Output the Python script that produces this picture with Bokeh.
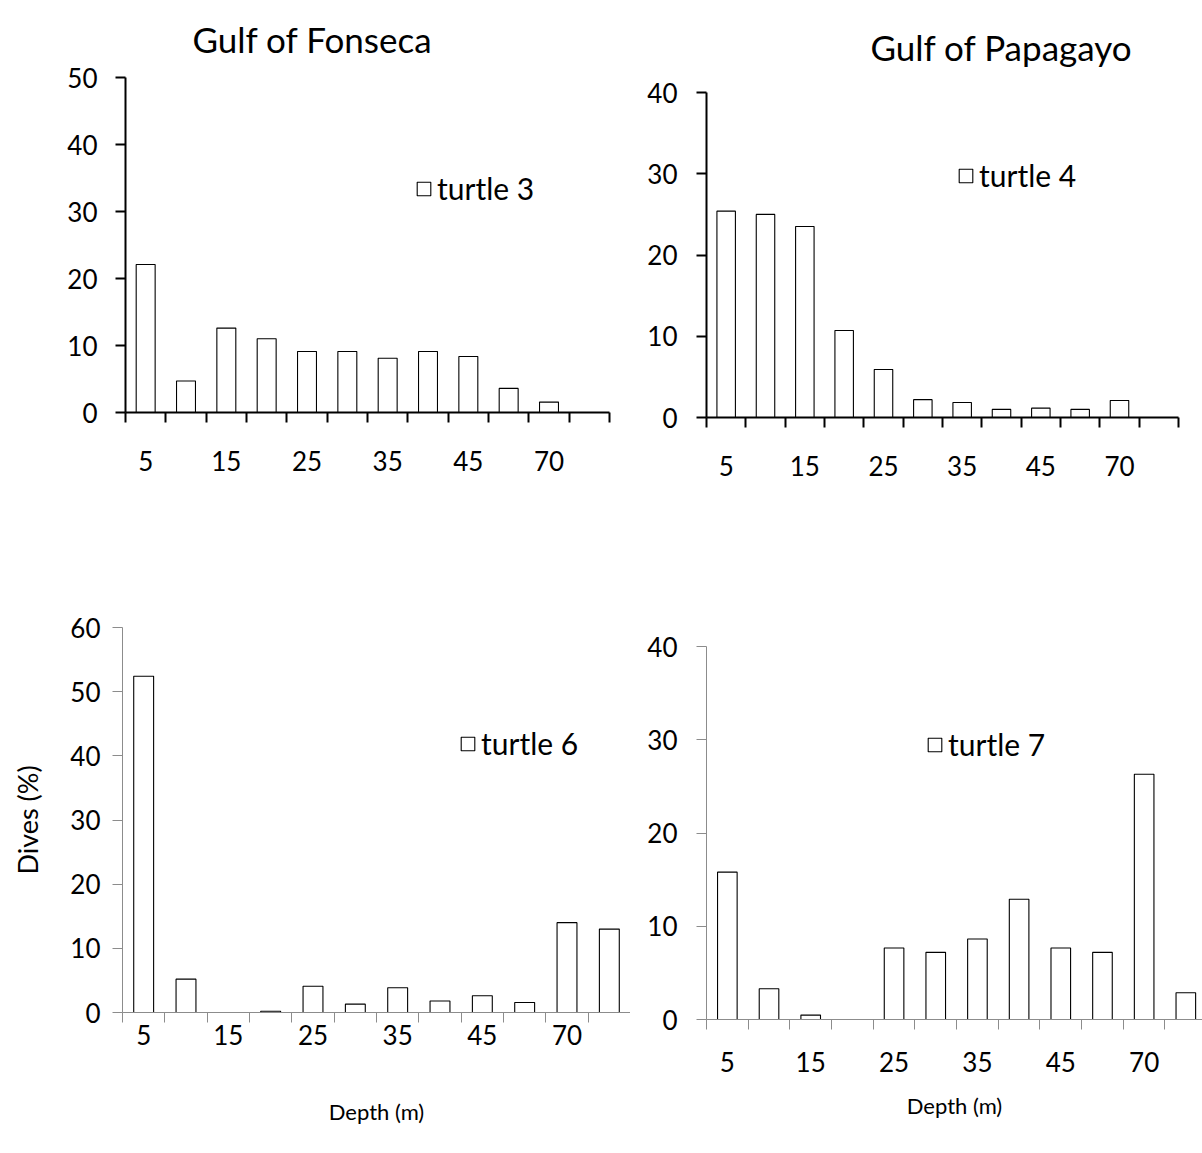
from bokeh.plotting import figure
from bokeh.models import (Range1d, FixedTicker, Legend, LegendItem,
                          ColumnDataSource)
from bokeh.layouts import column, row
from bokeh.embed import file_html
from bokeh.resources import INLINE

# Depth bins (m) and share of dives (%) per bin for each turtle
depth_bins = ["5", "10", "15", "20", "25", "30", "35", "40", "45", "50", "70", ">70"]
turtle3 = [22.1, 4.7, 12.6, 11.0, 9.1, 9.1, 8.1, 9.1, 8.35, 3.6, 1.55, 0.0]
turtle4 = [25.4, 25.0, 23.5, 10.7, 5.9, 2.2, 1.85, 1.0, 1.15, 1.0, 2.1, 0.0]
turtle6 = [52.4, 5.2, 0.0, 0.2, 4.1, 1.3, 3.85, 1.8, 2.6, 1.55, 14.0, 13.0]
turtle7 = [15.8, 3.3, 0.47, 0.0, 7.66, 7.2, 8.64, 12.9, 7.66, 7.2, 26.3, 2.87]

FONT = "Lato"


def panel(values, name, ymax, width, height, borders, xend, axis_color,
          axis_width, label_standoff, y_standoff, legend_loc, title=None,
          title_offset=0, title_standoff=10, ylabel=None, xlabel=None,
          xlabel_standoff=40):
    left, right, top, bottom = borders
    p = figure(width=width, height=height, output_backend="svg",
               toolbar_location=None, x_axis_location="below",
               x_range=Range1d(-0.5, xend), y_range=Range1d(0, ymax),
               min_border_left=left, min_border_right=right,
               min_border_top=top, min_border_bottom=bottom)
    p.outline_line_color = None
    p.xgrid.grid_line_color = None
    p.ygrid.grid_line_color = None
    p.background_fill_color = "white"
    p.border_fill_color = "white"

    # bars (empty bins are left out)
    xs = [i for i, v in enumerate(values) if v > 0]
    tops = [values[i] for i in xs]
    src = ColumnDataSource(dict(x=xs, top=tops))
    r = p.vbar(x="x", top="top", bottom=0, width=0.47, source=src,
               fill_color="white", line_color="black", line_width=1.1)

    # y axis
    ya = p.yaxis[0]
    ya.ticker = FixedTicker(ticks=list(range(0, ymax + 1, 10)))
    ya.major_tick_out = 10
    ya.major_tick_in = 0
    ya.minor_tick_out = 0
    ya.minor_tick_in = 0
    ya.axis_line_color = axis_color
    ya.axis_line_width = axis_width
    ya.major_tick_line_color = axis_color
    ya.major_tick_line_width = axis_width
    ya.major_label_text_font = FONT
    ya.major_label_text_font_size = "26px"
    ya.major_label_text_color = "black"
    ya.major_label_standoff = y_standoff
    if ylabel:
        ya.axis_label = ylabel
        ya.axis_label_text_font = FONT
        ya.axis_label_text_font_size = "27px"
        ya.axis_label_text_font_style = "normal"
        ya.axis_label_text_color = "black"
        ya.axis_label_standoff = 23

    # x axis: tick marks on the bin edges, names under every other bin
    shown = list(range(0, len(depth_bins) - 1, 2))
    xa = p.xaxis[0]
    xa.ticker = FixedTicker(
        ticks=shown,
        minor_ticks=[i - 0.5 for i in range(len(depth_bins) + 1)])
    xa.major_label_overrides = {i: depth_bins[i] for i in shown}
    xa.major_tick_line_color = None
    xa.major_tick_out = 10
    xa.major_tick_in = 0
    xa.minor_tick_out = 10
    xa.minor_tick_in = 0
    xa.minor_tick_line_color = axis_color
    xa.minor_tick_line_width = axis_width
    xa.axis_line_color = axis_color
    xa.axis_line_width = axis_width
    xa.major_label_standoff = label_standoff
    xa.major_label_text_font = FONT
    xa.major_label_text_font_size = "26px"
    xa.major_label_text_color = "black"
    if xlabel:
        xa.axis_label = xlabel
        xa.axis_label_text_font = FONT
        xa.axis_label_text_font_size = "22px"
        xa.axis_label_text_font_style = "normal"
        xa.axis_label_text_color = "black"
        xa.axis_label_standoff = xlabel_standoff

    legend = Legend(items=[LegendItem(label=name, renderers=[r])],
                    location=legend_loc, glyph_width=17, glyph_height=17,
                    padding=0, margin=0, spacing=0, label_standoff=5,
                    border_line_color=None, background_fill_alpha=0,
                    label_text_font=FONT, label_text_font_size="30px",
                    label_text_color="black")
    p.add_layout(legend)

    if title:
        p.title.text = title
        p.title.text_font = FONT
        p.title.text_font_size = "35px"
        p.title.text_font_style = "normal"
        p.title.text_color = "black"
        p.title.align = "left"
        p.title.vertical_align = "top"
        p.title.offset = title_offset
        p.title.standoff = title_standoff
    return p


p1 = panel(turtle3, "turtle 3", 50, 630, 580, (125, 21, 77, 168), 11.5,
           "black", 2, 28, 18, (290, 206), title="Gulf of Fonseca",
           title_offset=67, title_standoff=31)
p2 = panel(turtle4, "turtle 4", 40, 572, 580, (76, 24, 92, 163), 11.5,
           "black", 2, 28, 19, (251, 224), title="Gulf of Papagayo",
           title_offset=164, title_standoff=45)
p3 = panel(turtle6, "turtle 6", 60, 630, 573, (122, 0, 47, 141), 11.5,
           "#8c8c8c", 1, 2, 12, (337, 251), ylabel="Dives (%)",
           xlabel="Depth (m)", xlabel_standoff=50)
p4 = panel(turtle7, "turtle 7", 40, 572, 573, (76, 0, 66, 134), 11.4,
           "#8c8c8c", 1, 22, 19, (220, 257), xlabel="Depth (m)",
           xlabel_standoff=17)

# each panel sits in its own box so the four frames are laid out independently
page = column(row(column(p1), column(p2)), row(column(p3), column(p4)))

open("out.html", "w").write(file_html(page, INLINE))
